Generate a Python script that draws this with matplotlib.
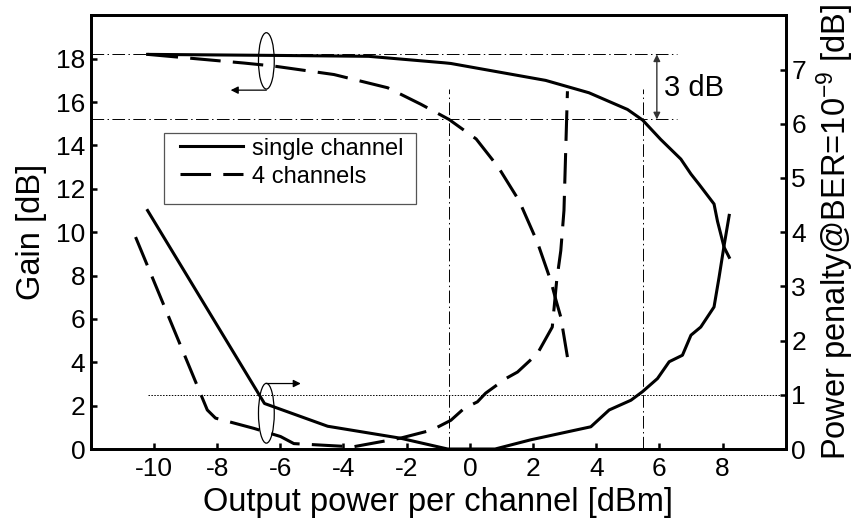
import matplotlib
matplotlib.use("Agg")
import matplotlib.pyplot as plt
from matplotlib.patches import Ellipse, Rectangle
from matplotlib.lines import Line2D

plt.rcParams['font.family'] = ['Liberation Sans', 'DejaVu Sans']
plt.rcParams['mathtext.fontset'] = 'custom'
plt.rcParams['mathtext.rm'] = 'Liberation Sans'
plt.rcParams['mathtext.it'] = 'Liberation Sans:italic'
plt.rcParams['axes.unicode_minus'] = False

# gain vs output power (left axis)
gain_single_x = [-10.2, -6.0, -3.2, -0.8, -0.6, 2.4, 3.77, 4.99, 5.47, 6.04, 6.68, 7.0, 7.26, 7.73, 7.84, 8.05, 8.21]
gain_single_y = [18.2, 18.15, 18.11, 17.81, 17.78, 17.0, 16.43, 15.66, 15.17, 14.28, 13.37, 12.68, 12.2, 11.3, 10.5, 9.3, 8.84]

gain_4ch_x = [-10.2, -7.15, -6.2, -4.3, -2.6, -1.55, -0.66, 0.2, 0.9, 1.56, 2.14, 2.56, 2.72, 2.88, 3.09]
gain_4ch_y = [18.2, 17.8, 17.66, 17.27, 16.66, 15.9, 15.2, 14.3, 13.0, 11.45, 9.53, 7.77, 6.9, 6.08, 4.24]

# power penalty @ BER=1e-9 (right axis)
pp_single_x = [-10.2, -6.5, -4.5, -2.2, -0.7, 0.8, 1.93, 3.83, 4.41, 5.1, 5.47, 5.94, 6.31, 6.73, 7.0, 7.31, 7.73, 7.89, 8.05, 8.21]
pp_single_y = [4.4, 0.84, 0.42, 0.2, 0.0, 0.0, 0.17, 0.41, 0.72, 0.9, 1.06, 1.30, 1.61, 1.73, 2.10, 2.25, 2.62, 3.17, 3.76, 4.31]

pp_4ch_x = [-10.58, -8.31, -8.05, -6.83, -5.99, -5.57, -3.7, -2.2, -1.2, -0.6, -0.18, 0.24, 0.5, 1.14, 1.51, 2.14, 2.61, 2.75, 2.88, 2.98, 3.09]
pp_4ch_y = [3.91, 0.72, 0.57, 0.38, 0.23, 0.1, 0.04, 0.2, 0.35, 0.53, 0.75, 0.87, 1.03, 1.30, 1.42, 1.76, 2.25, 3.11, 3.66, 4.4, 6.6]

# reference levels
gain_max = 18.2
gain_3db = 15.2
p3db_4ch = -0.66
p3db_single = 5.47
pp_ref = 1.0

x_ticks = list(range(-10, 9, 2))
gain_ticks = list(range(0, 19, 2))
pp_ticks = list(range(0, 8))

fig = plt.figure(figsize=(8.55, 5.29), dpi=100)
ax = fig.add_axes([0.1061, 0.1512, 0.8129, 0.8198])
ax2 = ax.twinx()

lw = 2.2
ax.plot(gain_single_x, gain_single_y, color='k', lw=lw, solid_joinstyle='miter')
ax.plot(gain_4ch_x, gain_4ch_y, color='k', lw=lw, dashes=(10, 4))
ax2.plot(pp_single_x, pp_single_y, color='k', lw=lw, clip_on=False)
ax2.plot(pp_4ch_x, pp_4ch_y, color='k', lw=lw, dashes=(10, 4))

# 3 dB guide lines
dd = (13, 3.5, 1.5, 3.5)
for g in (gain_max, gain_3db):
    ax.plot([-12, 6.55], [g, g], color='k', lw=0.7, dashes=dd)
for p in (p3db_4ch, p3db_single):
    ax.plot([p, p], [0, 16.6], color='k', lw=0.7, dashes=dd)
ax2.plot([-10.2, 10], [pp_ref, pp_ref], color='k', lw=0.7, dashes=(1.5, 1.5))

ax.annotate('', xy=(5.92, gain_3db), xytext=(5.92, gain_max),
            arrowprops=dict(arrowstyle='<|-|>', color='#333333', lw=1.0,
                            mutation_scale=10, shrinkA=0, shrinkB=0))
ax.text(6.14, 16.66, '3 dB', fontsize=21, ha='left', va='center')

# axis markers: ellipse plus arrow pointing to the matching axis
ax.add_patch(Ellipse((-6.44, 17.9), 0.5, 2.6, fill=False, lw=0.9, color='k'))
ax.annotate('', xy=(-7.57, 16.55), xytext=(-6.44, 16.55),
            arrowprops=dict(arrowstyle='-|>', color='k', lw=0.9,
                            mutation_scale=11, shrinkA=0, shrinkB=0))
ax.add_patch(Ellipse((-6.44, 1.65), 0.5, 2.76, fill=False, lw=0.9, color='k'))
ax.annotate('', xy=(-5.35, 3.02), xytext=(-6.44, 3.02),
            arrowprops=dict(arrowstyle='-|>', color='k', lw=0.9,
                            mutation_scale=11, shrinkA=0, shrinkB=0))

ax.set_xlim(-12, 10)
ax.set_ylim(0, 20)
ax2.set_ylim(0, 8)
ax.set_xticks(x_ticks)
ax.set_yticks(gain_ticks)
ax2.set_yticks(pp_ticks)

ax.tick_params(axis='both', direction='in', length=4.5, width=1.8, labelsize=19)
ax.tick_params(axis='x', pad=6)
ax.tick_params(axis='y', pad=4)
ax2.tick_params(axis='y', direction='in', length=4.5, width=1.8, labelsize=19, pad=4)
for a in (ax, ax2):
    for s in a.spines.values():
        s.set_linewidth(2)

ax.set_xlabel('Output power per channel [dBm]', fontsize=23.5, labelpad=4)
ax.set_ylabel('Gain [dB]', fontsize=23.5, labelpad=6)
ax2.set_ylabel('Power penalty@BER=10$^{-9}$ [dB]', fontsize=23.5, labelpad=6)

# legend with a hand-drawn frame
ax.add_patch(Rectangle((0.106, 0.565), 0.362, 0.164, transform=ax.transAxes,
                       fill=False, edgecolor='#555555', lw=0.9, zorder=3))
handles = [Line2D([], [], color='k', lw=lw),
           Line2D([], [], color='k', lw=lw, dashes=(10, 4))]
ax.legend(handles, ['single channel', '4 channels'], loc='upper left',
          bbox_to_anchor=(0.128, 0.718), frameon=False, fontsize=17,
          borderpad=0, borderaxespad=0, handlelength=2.7, handletextpad=0.36,
          labelspacing=0.25)

fig.savefig('out.png', dpi=100)
